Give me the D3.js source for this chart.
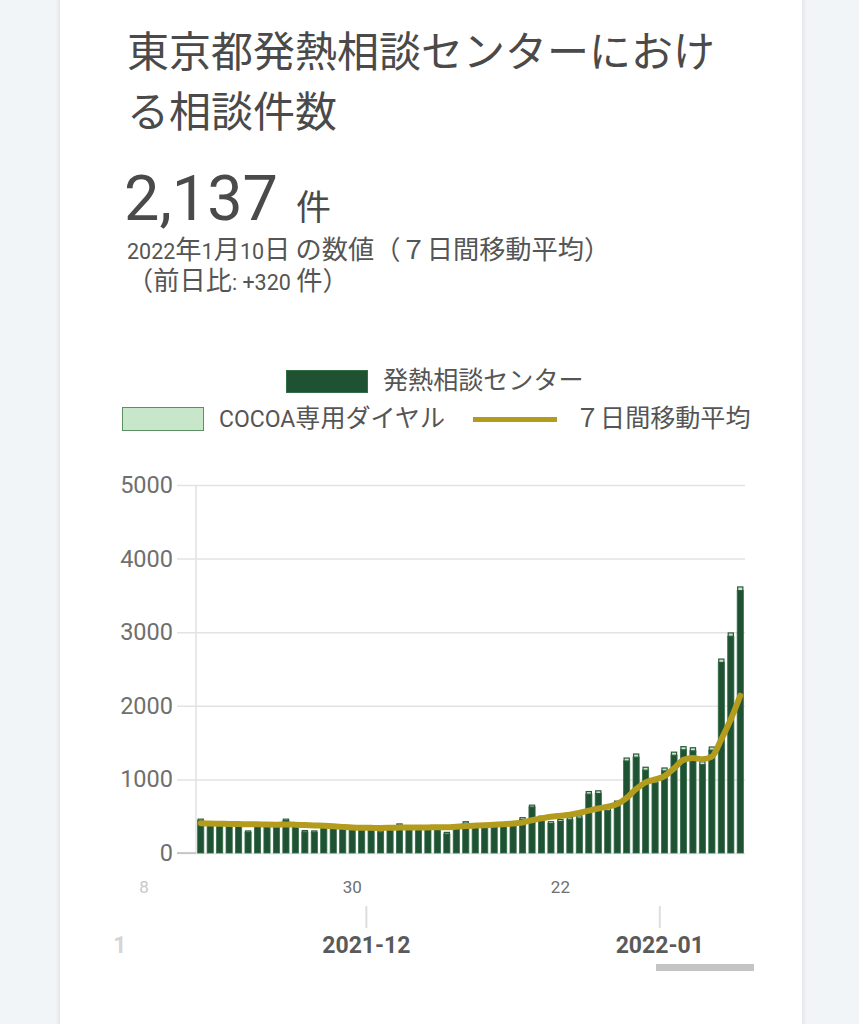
<!DOCTYPE html>
<html><head><meta charset="utf-8">
<script src="https://cdn.jsdelivr.net/npm/d3@7"></script>
<style>
html,body{margin:0;padding:0;background:#f2f5f8;}
svg{display:block;}
text{font-family:Roboto,"Noto Sans CJK JP",sans-serif;}
</style></head><body>
<svg id="chart" width="859" height="1024"></svg>
<script>
// ---------- data ----------
const dates = [
"2021-11-14","2021-11-15","2021-11-16","2021-11-17","2021-11-18","2021-11-19","2021-11-20",
"2021-11-21","2021-11-22","2021-11-23","2021-11-24","2021-11-25","2021-11-26","2021-11-27",
"2021-11-28","2021-11-29","2021-11-30","2021-12-01","2021-12-02","2021-12-03","2021-12-04",
"2021-12-05","2021-12-06","2021-12-07","2021-12-08","2021-12-09","2021-12-10","2021-12-11",
"2021-12-12","2021-12-13","2021-12-14","2021-12-15","2021-12-16","2021-12-17","2021-12-18",
"2021-12-19","2021-12-20","2021-12-21","2021-12-22","2021-12-23","2021-12-24","2021-12-25",
"2021-12-26","2021-12-27","2021-12-28","2021-12-29","2021-12-30","2021-12-31","2022-01-01",
"2022-01-02","2022-01-03","2022-01-04","2022-01-05","2022-01-06","2022-01-07","2022-01-08",
"2022-01-09","2022-01-10"];
const centerValues = [
440,380,370,375,370,280,365,360,360,440,365,285,280,360,
345,340,335,330,315,285,325,375,338,333,338,338,258,348,
403,348,353,358,360,368,455,625,475,400,428,452,475,800,
808,575,668,1250,1302,1125,952,1115,1328,1402,1388,1200,1398,2590,2945,3565];
const cocoaValues = [
20,20,20,20,20,20,20,20,20,20,20,20,20,20,
20,20,20,20,20,20,20,20,22,22,22,22,22,22,
22,22,22,22,22,22,25,25,25,25,27,28,30,35,
37,35,37,40,43,40,38,40,42,43,42,40,42,45,45,50];
const movingAvg = [
405,400,398,395,393,390,389,386,385,388,385,380,375,370,363,355,348,344,342,340,
342,345,346,347,348,350,350,358,366,372,378,385,392,400,415,445,470,492,506,520,
545,575,605,630,665,750,870,960,1000,1045,1150,1265,1290,1275,1310,1545,1817,2137];
const yTicks = [0,1000,2000,3000,4000,5000];
const dayLabels = ["2021-11-08","2021-11-30","2021-12-22"];
const monthLabels = ["2021-11","2021-12","2022-01"];
const seriesNames = ["発熱相談センター","COCOA専用ダイヤル","７日間移動平均"];

// ---------- helpers ----------
// CJK runs are rendered larger than Latin runs, as on the source device
function richText(parent, str, xPos, yPos, size, fill, cjkScale){
  const t = parent.append("text").attr("x",xPos).attr("y",yPos).attr("fill",fill).attr("font-size",size);
  const re = /([\u3000-\u9fff\uff00-\uffef]+)|([^\u3000-\u9fff\uff00-\uffef]+)/g;
  let m;
  while((m = re.exec(str))){
    if(m[1]) t.append("tspan").attr("font-size",size*cjkScale).text(m[1]);
    else t.append("tspan").text(m[2]);
  }
  return t;
}

// ---------- setup ----------
const parse = d3.timeParse("%Y-%m-%d");
const parseM = d3.timeParse("%Y-%m");
const rows = dates.map((d,i)=>({date:parse(d), center:centerValues[i], cocoa:cocoaValues[i], avg:movingAvg[i]}));
const svg = d3.select("#chart");
const W = 859, H = 1024;

const defs = svg.append("defs");
const f = defs.append("filter").attr("id","sh").attr("x","-5%").attr("y","-5%").attr("width","110%").attr("height","110%");
f.append("feDropShadow").attr("dx",0).attr("dy",0).attr("stdDeviation",2.5).attr("flood-color","#000").attr("flood-opacity",0.13);
defs.append("clipPath").attr("id","xclip").append("rect").attr("x",110).attr("y",860).attr("width",650).attr("height",120);

svg.append("rect").attr("width",W).attr("height",H).attr("fill","#f2f5f8");
svg.append("rect").attr("x",60).attr("y",-20).attr("width",742).attr("height",H+60).attr("fill","#fff").attr("filter","url(#sh)");

const txtCol = "#4a4a4a";
// title
svg.append("text").attr("x",127).attr("y",67).attr("font-size",42).attr("fill",txtCol).text("東京都発熱相談センターにおけ");
svg.append("text").attr("x",127).attr("y",127).attr("font-size",42).attr("fill",txtCol).text("る相談件数");
const big = svg.append("text").attr("x",124).attr("y",220).attr("fill",txtCol);
big.append("tspan").attr("font-size",63).text("2,137");
big.append("tspan").attr("font-size",35).attr("dx",18).text("件");
richText(svg, "2022年1月10日 の数値（７日間移動平均）", 127, 259, 21.5, "#555", 1.22);
richText(svg, "（前日比: +320 件）", 127, 290, 21.5, "#555", 1.22);

// ---------- scales ----------
const x = d3.scaleTime()
  .domain([d3.timeHour.offset(rows[0].date,-12), d3.timeHour.offset(rows[rows.length-1].date,12)])
  .range([196,745]);
const y = d3.scaleLinear().domain([0,5000]).range([853,485]);
const barW = 6.2;

// legend
const darkFill = "#1f5233", darkStroke = "#336e47", lightFill = "#c8e6c9", lightStroke = "#5d8f64", lineCol = "#b39b1e";
const lg = svg.append("g");
lg.append("rect").attr("x",286.5).attr("y",370.5).attr("width",81).attr("height",22).attr("fill",darkFill).attr("stroke",darkStroke);
richText(lg, seriesNames[0], 383, 389, 23, "#555", 1.09);
lg.append("rect").attr("x",122.5).attr("y",407.5).attr("width",81).attr("height",23).attr("fill",lightFill).attr("stroke",lightStroke);
richText(lg, seriesNames[1], 219, 427, 23, "#555", 1.09);
lg.append("line").attr("x1",473).attr("x2",557).attr("y1",419.5).attr("y2",419.5).attr("stroke",lineCol).attr("stroke-width",5);
richText(lg, seriesNames[2], 575, 427, 23, "#555", 1.09);

// y grid + axis
const yAxis = d3.axisLeft(y).tickValues(yTicks).tickSize(-(745-177)).tickPadding(4).tickFormat(d3.format("d"));
const ga = svg.append("g").attr("transform","translate(177,0)").call(yAxis);
ga.select(".domain").remove();
ga.selectAll(".tick line").attr("stroke","#e3e3e3").attr("stroke-width",1.5);
ga.selectAll(".tick text").attr("fill","#6f6f6f").attr("font-size",23.5).attr("font-family",'Roboto,"Noto Sans CJK JP",sans-serif');
svg.append("line").attr("x1",196).attr("x2",196).attr("y1",485).attr("y2",853).attr("stroke","#e0e0e0").attr("stroke-width",1.5);
svg.append("line").attr("x1",177).attr("x2",196).attr("y1",853).attr("y2",853).attr("stroke","#bdbdbd").attr("stroke-width",1.5);

// bars
const bars = svg.append("g");
bars.selectAll("rect.c").data(rows).join("rect").attr("class","c")
  .attr("x",d=>x(d.date)-barW/2).attr("width",barW)
  .attr("y",d=>y(d.center)).attr("height",d=>y(0)-y(d.center))
  .attr("fill",darkFill).attr("stroke",darkStroke).attr("stroke-width",0.8);
bars.selectAll("rect.k").data(rows).join("rect").attr("class","k")
  .attr("x",d=>x(d.date)-barW/2+0.5).attr("width",barW-1)
  .attr("y",d=>y(d.center+d.cocoa)).attr("height",d=>y(d.center)-y(d.center+d.cocoa))
  .attr("fill",lightFill).attr("stroke","#2a5a3a").attr("stroke-width",1.2);

// moving average line
svg.append("path").datum(rows)
  .attr("d",d3.line().x(d=>x(d.date)).y(d=>y(d.avg)).curve(d3.curveMonotoneX))
  .attr("fill","none").attr("stroke",lineCol).attr("stroke-width",6).attr("stroke-linejoin","round").attr("stroke-linecap","round");

// x axis labels
const xg = svg.append("g").attr("clip-path","url(#xclip)");
const dayDates = dayLabels.map(parse);
xg.selectAll("text.day").data(dayDates).join("text").attr("class","day")
  .attr("x",d=>x(d)).attr("y",893).attr("text-anchor","middle").attr("font-size",17)
  .attr("fill",d=>x(d)<196?"#c8c8c8":"#6f6f6f").text(d3.timeFormat("%-d"));
const monDates = monthLabels.map(parseM);
const mpos = d=>x(d3.timeHour.offset(d,12));
xg.selectAll("line.mt").data(monDates.filter(d=>mpos(d)>196)).join("line").attr("class","mt")
  .attr("x1",mpos).attr("x2",mpos).attr("y1",906).attr("y2",928).attr("stroke","#dedede").attr("stroke-width",2);
xg.selectAll("text.mon").data(monDates).join("text").attr("class","mon")
  .attr("x",mpos).attr("y",953).attr("text-anchor","middle").attr("font-size",23).attr("font-weight","bold")
  .attr("fill",d=>mpos(d)<196?"#d5d5d5":"#5a5a5a").text(d3.timeFormat("%Y-%m"));

// scrollbar
svg.append("rect").attr("x",656).attr("y",964).attr("width",98).attr("height",7).attr("fill","#c4c4c4");
</script>
</body></html>
